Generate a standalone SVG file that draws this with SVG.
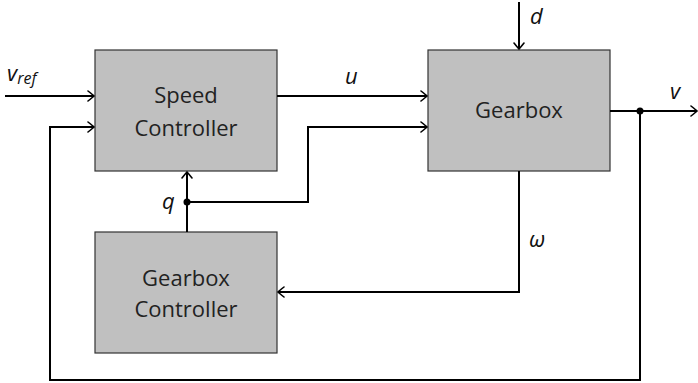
<svg xmlns="http://www.w3.org/2000/svg" width="698" height="383" viewBox="0 0 698 383">
<style>
.box{fill:#c0c0c0;stroke:#333;stroke-width:1.2}
.t{font-family:"Open Sans","DejaVu Sans",sans-serif;font-size:22px;fill:#222;text-anchor:middle}
.l{font-family:"Open Sans","DejaVu Sans",sans-serif;font-size:22px;fill:#111;font-style:italic}
.w{fill:none;stroke:#000;stroke-width:2}
</style>
<defs>
<marker id="a" viewBox="-8 -6 10 12" markerWidth="10" markerHeight="12" refX="0" refY="0" orient="auto" markerUnits="userSpaceOnUse">
<path d="M-6,-5 Q-1,-1 0,0 Q-1,1 -6,5" fill="none" stroke="#000" stroke-width="1.6" stroke-linecap="round"/>
</marker>
</defs>
<g id="speed-controller"><rect class="box" x="95" y="50" width="182" height="121"/><text class="t" x="186" y="103">Speed</text><text class="t" x="186" y="136">Controller</text></g>
<g id="gearbox"><rect class="box" x="428" y="50" width="182" height="121"/><text class="t" x="519" y="118">Gearbox</text></g>
<g id="gearbox-controller"><rect class="box" x="95" y="232" width="182" height="121"/><text class="t" x="186" y="286">Gearbox</text><text class="t" x="186" y="317">Controller</text></g>
<g id="connectors">
<path class="w" d="M5,96 H94" marker-end="url(#a)"/>
<path class="w" d="M277,96 H427" marker-end="url(#a)"/>
<path class="w" d="M519,2 V49" marker-end="url(#a)"/>
<path class="w" d="M610,111 H697" marker-end="url(#a)"/>
<path class="w" d="M640,111 V380 H50 V127 H94" marker-end="url(#a)"/>
<path class="w" d="M519,171 V292 H278" marker-end="url(#a)"/>
<path class="w" d="M187,232 V172" marker-end="url(#a)"/>
<path class="w" d="M187,202 H308 V127 H427" marker-end="url(#a)"/>
<circle cx="187" cy="202" r="3.5"/>
<circle cx="640" cy="111" r="3.5"/>
</g>
<g id="labels">
<text class="l" x="7" y="81">v<tspan font-size="16" dy="3">ref</tspan></text>
<text class="l" x="345" y="84">u</text>
<text class="l" x="162" y="209">q</text>
<text class="l" x="530" y="24">d</text>
<text class="l" x="670" y="99">v</text>
<text class="l" x="529" y="247" font-style="normal">ω</text>
</g>
</svg>
